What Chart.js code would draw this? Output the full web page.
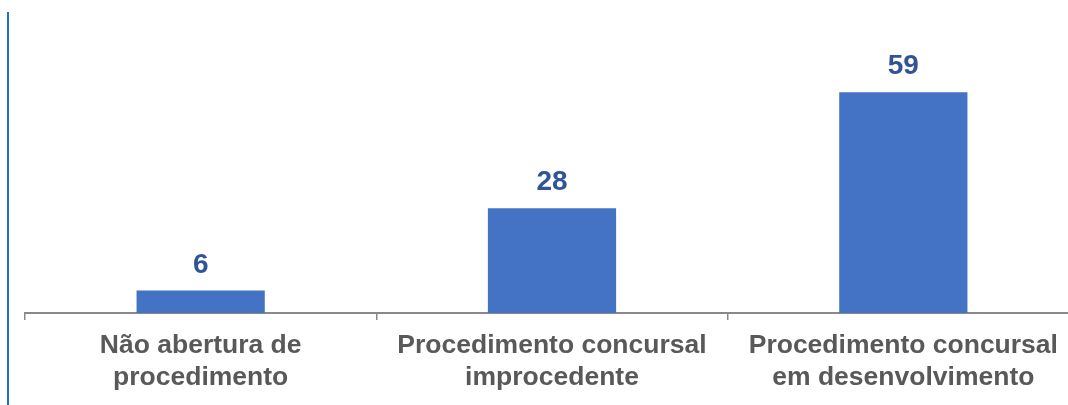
<!DOCTYPE html>
<html>
<head>
<meta charset="utf-8">
<script src="https://cdn.jsdelivr.net/npm/chart.js@4/dist/chart.umd.min.js"></script>
<style>
  html, body { margin: 0; padding: 0; background: #fff; overflow: hidden; width: 1068px; height: 405px; }
  #wrap { position: absolute; left: 0; top: 0; width: 1100px; height: 405px; }
  #vline { position: absolute; left: 7px; top: 12px; width: 2px; height: 393px; background: #1F6FC4; }
</style>
</head>
<body>
<div id="wrap"><canvas id="c" width="1100" height="405"></canvas></div>
<div id="vline"></div>
<script>
const categories = [
  ["Não abertura de", "procedimento"],
  ["Procedimento concursal", "improcedente"],
  ["Procedimento concursal", "em desenvolvimento"]
];
const values = [6, 28, 59];

const valueLabels = {
  id: 'valueLabels',
  afterDatasetsDraw(chart) {
    const ctx = chart.ctx;
    const meta = chart.getDatasetMeta(0);
    ctx.save();
    ctx.font = 'bold 28px "Liberation Sans", Arial, sans-serif';
    ctx.fillStyle = '#2F5597';
    ctx.textAlign = 'center';
    ctx.textBaseline = 'alphabetic';
    meta.data.forEach((bar, i) => {
      ctx.fillText(String(values[i]), bar.x, bar.y - 18);
    });
    ctx.restore();
  }
};

new Chart(document.getElementById('c'), {
  type: 'bar',
  data: {
    labels: categories,
    datasets: [{
      data: values,
      backgroundColor: '#4472C4',
      borderWidth: 0,
      barPercentage: 1,
      categoryPercentage: 0.365
    }]
  },
  options: {
    responsive: false,
    animation: false,
    layout: { padding: { left: 25, right: 21, top: 51, bottom: 0 } },
    plugins: { legend: { display: false }, tooltip: { enabled: false } },
    scales: {
      x: {
        afterFit(scale) { scale.height = 92; },
        grid: { display: true, drawOnChartArea: false, drawTicks: true, tickLength: 7, color: '#898989', lineWidth: 1.5 },
        border: { display: true, color: '#898989', width: 2 },
        ticks: {
          color: '#595959',
          padding: 10,
          maxRotation: 0,
          autoSkip: false,
          font: { family: '"Liberation Sans", Arial, sans-serif', size: 26.5, weight: 'bold', lineHeight: 1.2 }
        }
      },
      y: {
        display: false,
        min: 0,
        max: 70
      }
    }
  },
  plugins: [valueLabels]
});
</script>
</body>
</html>
